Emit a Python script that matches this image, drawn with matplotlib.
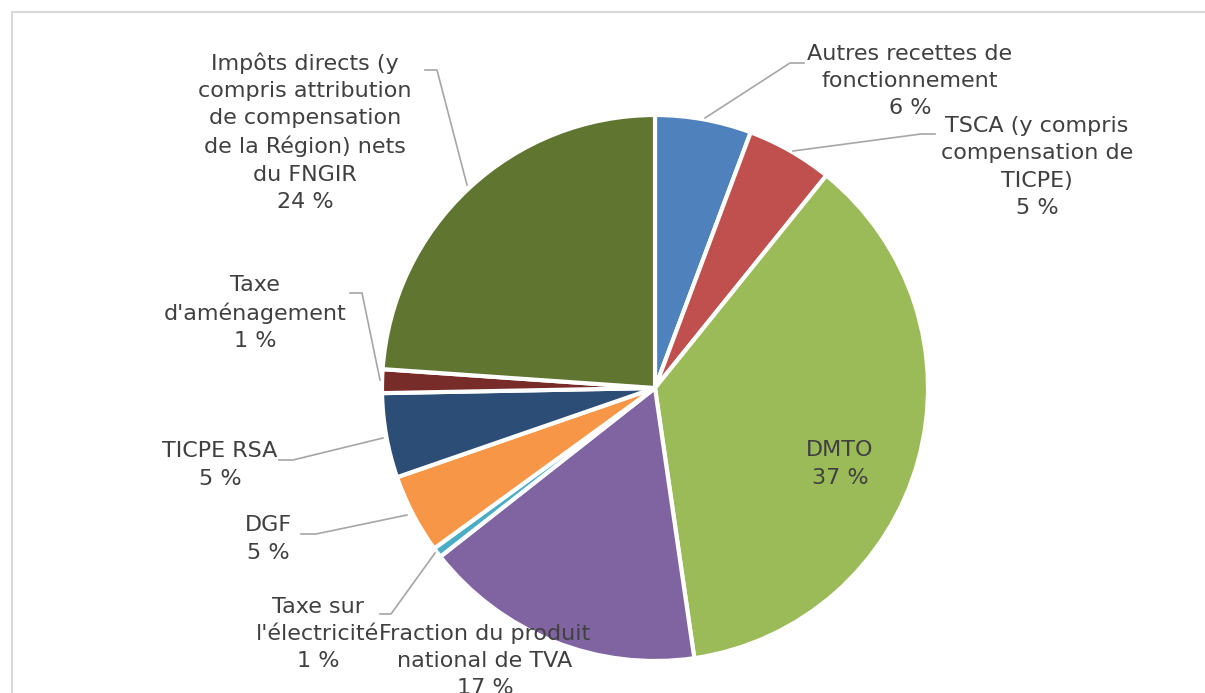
import matplotlib.pyplot as plt
from matplotlib.patches import Rectangle

labels = ["Autres recettes de\nfonctionnement",
          "TSCA (y compris\ncompensation de\nTICPE)",
          "DMTO",
          "Fraction du produit\nnational de TVA",
          "Taxe sur\nl'électricité",
          "DGF",
          "TICPE RSA",
          "Taxe\nd'aménagement",
          "Impôts directs (y\ncompris attribution\nde compensation\nde la Région) nets\ndu FNGIR"]
shares = [5.7, 5.1, 36.9, 16.7, 0.6, 4.7, 5.0, 1.4, 23.9]
colors = ["#4F81BD", "#C0504D", "#9BBB59", "#8064A2", "#4BACC6",
          "#F79646", "#2C4D75", "#772C2A", "#5F7530"]

H = 693
def py(y):
    return H - y

# label centre (pixels) and leader line points (pixels), None = no leader
label_pos = [(910, 81), (1037, 167), (840, 464), (485, 661), (318, 634),
             (268, 539), (220, 465), (255, 313), (305, 132)]
leaders = [[(705, 118), (790, 63), (804, 63)],
           [(793, 151), (921, 134), (935, 134)],
           None,
           None,
           [(435, 553), (391, 614), (380, 614)],
           [(407, 515), (316, 534), (301, 534)],
           [(383, 438), (293, 460), (279, 460)],
           [(380, 380), (362, 293), (350, 293)],
           [(467, 185), (437, 70), (425, 70)]]

fig = plt.figure(figsize=(12.05, 6.93), dpi=100)
ax = fig.add_axes([0, 0, 1, 1])

ax.add_patch(Rectangle((12, -20), 1300, py(12) + 20, fill=False,
                       edgecolor="#d9d9d9", linewidth=1.5))

ax.pie(shares, colors=colors, startangle=90, counterclock=False,
       center=(655, py(388)), radius=273, frame=True,
       wedgeprops=dict(edgecolor="white", linewidth=3))
ax.set_xlim(0, 1205)
ax.set_ylim(0, H)
ax.set_aspect("equal")
ax.axis("off")

for lab, v, (x, y), ld in zip(labels, shares, label_pos, leaders):
    ax.text(x, py(y), f"{lab}\n{round(v)} %", ha="center", va="center",
            fontsize=16, color="#404040", linespacing=1.45,
            fontfamily="DejaVu Sans")
    if ld:
        ax.plot([p[0] for p in ld], [py(p[1]) for p in ld],
                color="#a6a6a6", linewidth=1.2)

fig.savefig("out.png", dpi=100)
